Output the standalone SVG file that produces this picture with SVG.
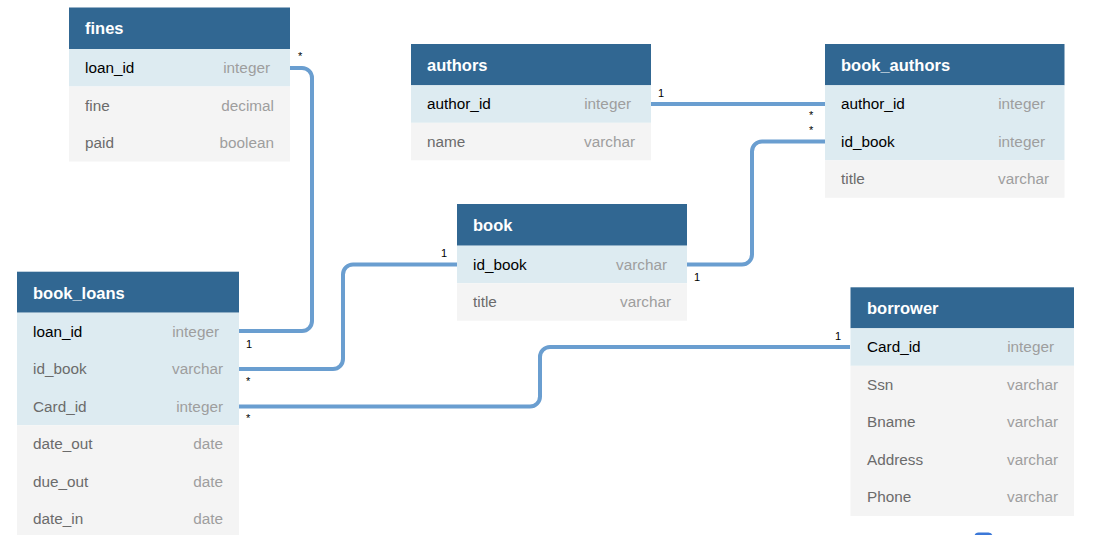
<svg xmlns="http://www.w3.org/2000/svg" width="1100" height="535" viewBox="0 0 1100 535">
<style>
.hd{fill:#316792}
.pk{fill:#ddebf1}
.rw{fill:#f4f4f4}
.tt{font-family:"Liberation Sans",Arial,sans-serif;font-size:16.5px;font-weight:bold;fill:#ffffff}
.fn{font-family:"Liberation Sans",Arial,sans-serif;font-size:15.3px;fill:#6b6b6b}
.fk{font-family:"Liberation Sans",Arial,sans-serif;font-size:15.3px;fill:#000000}
.ty{font-family:"Liberation Sans",Arial,sans-serif;font-size:15.3px;fill:#9e9e9e;text-anchor:end}
.lb{font-family:"Liberation Sans",Arial,sans-serif;font-size:11px;fill:#000000}
.cn{fill:none;stroke:#6a9ed0;stroke-width:4}
</style>
<rect width="1100" height="535" fill="#ffffff"/>

<g id="connectors">
<path class="cn" d="M 290 68 H 302 A 10 10 0 0 1 312 78 V 321 A 10 10 0 0 1 302 331 H 239"/>
<path class="cn" d="M 239 369 H 333 A 10 10 0 0 0 343 359 V 274.5 A 10 10 0 0 1 353 264.5 H 457"/>
<path class="cn" d="M 687 264.5 H 742 A 10 10 0 0 0 752 254.5 V 151.5 A 10 10 0 0 1 762 141.5 H 825"/>
<path class="cn" d="M 650 104 H 825"/>
<path class="cn" d="M 239 406.5 H 530 A 10 10 0 0 0 540 396.5 V 357 A 10 10 0 0 1 550 347 H 850"/>
<text class="lb" x="298" y="60">*</text>
<text class="lb" x="246" y="348">1</text>
<text class="lb" x="441" y="257">1</text>
<text class="lb" x="246" y="385">*</text>
<text class="lb" x="694" y="281">1</text>
<text class="lb" x="809" y="119">*</text>
<text class="lb" x="658" y="97">1</text>
<text class="lb" x="809" y="134">*</text>
<text class="lb" x="246" y="422">*</text>
<text class="lb" x="835" y="340">1</text>
</g>

<g id="fines">
<rect class="hd" x="69" y="7.5" width="221" height="41.5"/>
<rect class="pk" x="69" y="49" width="221" height="37.5"/>
<rect class="rw" x="69" y="86.5" width="221" height="75"/>
<text class="tt" x="85" y="34">fines</text>
<text class="fk" x="85" y="73">loan_id</text><text class="ty" x="270" y="73">integer</text>
<text class="fn" x="85" y="110.5">fine</text><text class="ty" x="274" y="110.5">decimal</text>
<text class="fn" x="85" y="148">paid</text><text class="ty" x="274" y="148">boolean</text>
</g>

<g id="authors">
<rect class="hd" x="411" y="44" width="240" height="41.3"/>
<rect class="pk" x="411" y="85.3" width="240" height="37.5"/>
<rect class="rw" x="411" y="122.8" width="240" height="37.5"/>
<text class="tt" x="427" y="71">authors</text>
<text class="fk" x="427" y="109">author_id</text><text class="ty" x="631" y="109">integer</text>
<text class="fn" x="427" y="146.5">name</text><text class="ty" x="635" y="146.5">varchar</text>
</g>

<g id="book_authors">
<rect class="hd" x="825" y="44" width="239.5" height="41.3"/>
<rect class="pk" x="825" y="85.3" width="239.5" height="75"/>
<rect class="rw" x="825" y="160.3" width="239.5" height="37.5"/>
<text class="tt" x="841" y="71">book_authors</text>
<text class="fk" x="841" y="109">author_id</text><text class="ty" x="1045" y="109">integer</text>
<text class="fk" x="841" y="146.5">id_book</text><text class="ty" x="1045" y="146.5">integer</text>
<text class="fn" x="841" y="184">title</text><text class="ty" x="1049" y="184">varchar</text>
</g>

<g id="book">
<rect class="hd" x="457" y="204" width="230" height="41.7"/>
<rect class="pk" x="457" y="245.7" width="230" height="37.5"/>
<rect class="rw" x="457" y="283.2" width="230" height="37.5"/>
<text class="tt" x="473" y="231">book</text>
<text class="fk" x="473" y="269.5">id_book</text><text class="ty" x="667" y="269.5">varchar</text>
<text class="fn" x="473" y="307">title</text><text class="ty" x="671" y="307">varchar</text>
</g>

<g id="book_loans">
<rect class="hd" x="17" y="271.7" width="222" height="41"/>
<rect class="pk" x="17" y="312.7" width="222" height="112.5"/>
<rect class="rw" x="17" y="425.2" width="222" height="112.5"/>
<text class="tt" x="33" y="298.5">book_loans</text>
<text class="fk" x="33" y="336.5">loan_id</text><text class="ty" x="219" y="336.5">integer</text>
<text class="fn" x="33" y="374">id_book</text><text class="ty" x="223" y="374">varchar</text>
<text class="fn" x="33" y="411.5">Card_id</text><text class="ty" x="223" y="411.5">integer</text>
<text class="fn" x="33" y="449">date_out</text><text class="ty" x="223" y="449">date</text>
<text class="fn" x="33" y="486.5">due_out</text><text class="ty" x="223" y="486.5">date</text>
<text class="fn" x="33" y="524">date_in</text><text class="ty" x="223" y="524">date</text>
</g>

<g id="borrower">
<rect class="hd" x="850.5" y="287.3" width="223.5" height="41"/>
<rect class="pk" x="850.5" y="328.3" width="223.5" height="37.5"/>
<rect class="rw" x="850.5" y="365.8" width="223.5" height="150.2"/>
<text class="tt" x="867" y="314">borrower</text>
<text class="fk" x="867" y="352">Card_id</text><text class="ty" x="1054" y="352">integer</text>
<text class="fn" x="867" y="389.5">Ssn</text><text class="ty" x="1058" y="389.5">varchar</text>
<text class="fn" x="867" y="427">Bname</text><text class="ty" x="1058" y="427">varchar</text>
<text class="fn" x="867" y="464.5">Address</text><text class="ty" x="1058" y="464.5">varchar</text>
<text class="fn" x="867" y="502">Phone</text><text class="ty" x="1058" y="502">varchar</text>
</g>

<g id="edge-mark">
<rect x="974.5" y="532.5" width="18" height="10" rx="4" fill="#3b78d8"/>
</g>
</svg>
